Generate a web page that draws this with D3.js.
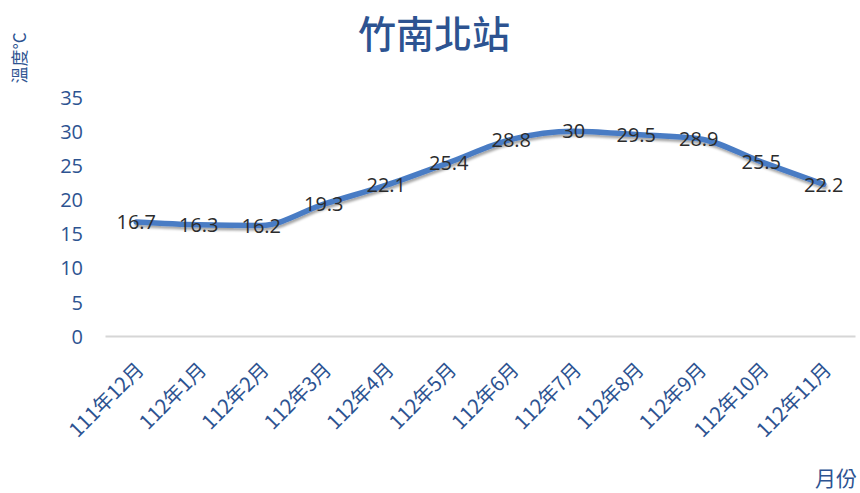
<!DOCTYPE html>
<html>
<head>
<meta charset="utf-8">
<script src="https://cdn.jsdelivr.net/npm/d3@7/dist/d3.min.js"></script>
<style>
  html, body { margin: 0; padding: 0; background: #fff; }
  svg { display: block; font-family: "Open Sans", "Noto Sans CJK TC", sans-serif; }
</style>
</head>
<body>
<svg id="chart" width="860" height="493"></svg>
<script>
// Monthly mean temperature, Zhunan North station
const months = ["111年12月", "112年1月", "112年2月", "112年3月", "112年4月", "112年5月",
                "112年6月", "112年7月", "112年8月", "112年9月", "112年10月", "112年11月"];
const temps = [16.7, 16.3, 16.2, 19.3, 22.1, 25.4, 28.8, 30, 29.5, 28.9, 25.5, 22.2];
const yTicks = [0, 5, 10, 15, 20, 25, 30, 35];

const svg = d3.select("#chart");
const blue = "#2d5391";
const cjk = "'Noto Sans CJK TC', sans-serif";

const x = d3.scaleBand().domain(months).range([105, 855]);
const y = d3.scaleLinear().domain([0, 35]).range([336, 97]);

// drop shadow for the line
const defs = svg.append("defs");
const f = defs.append("filter").attr("id", "shadow").attr("x", "-5%").attr("y", "-20%")
  .attr("width", "110%").attr("height", "140%");
f.append("feDropShadow").attr("dx", 1).attr("dy", 2.5).attr("stdDeviation", 1.2)
  .attr("flood-color", "#000").attr("flood-opacity", 0.35);

// title
svg.append("text").attr("x", 434).attr("y", 48).attr("text-anchor", "middle")
  .attr("font-family", cjk).attr("font-size", 38).attr("font-weight", 500)
  .attr("fill", blue).text("竹南北站");

// y axis title
svg.append("text").attr("transform", "translate(26,58) rotate(-90)")
  .attr("text-anchor", "middle").attr("font-family", cjk).attr("font-size", 17)
  .attr("fill", blue).text("溫度°C");

// x axis title
svg.append("text").attr("x", 857).attr("y", 486).attr("text-anchor", "end")
  .attr("font-family", cjk).attr("font-size", 21).attr("fill", blue).text("月份");

// y axis
const yAxis = svg.append("g").attr("transform", "translate(83,0)")
  .call(d3.axisLeft(y).tickValues(yTicks).tickSize(0).tickPadding(0));
yAxis.select(".domain").remove();
yAxis.selectAll("text").attr("font-size", 20).attr("fill", blue)
  .attr("font-family", "'Open Sans', sans-serif").attr("dy", "0.36em");

// x axis
const xAxis = svg.append("g").attr("transform", `translate(0,${y(0)})`)
  .call(d3.axisBottom(x).tickSize(0).tickPadding(0));
xAxis.select(".domain").attr("stroke", "#d6d6d6").attr("stroke-width", 2);
xAxis.selectAll(".tick text")
  .attr("font-family", cjk).attr("font-size", 20).attr("fill", blue)
  .attr("text-anchor", "end").attr("dy", 0).attr("y", 0)
  .attr("transform", "translate(9,35) rotate(-45)");

// line
const line = d3.line()
  .x((d, i) => x(months[i]) + x.bandwidth() / 2)
  .y(d => y(d))
  .curve(d3.curveMonotoneX);

svg.append("path").datum(temps)
  .attr("d", line).attr("fill", "none")
  .attr("stroke", "#4a7cc4").attr("stroke-width", 5.5)
  .attr("stroke-linecap", "round").attr("stroke-linejoin", "round")
  .attr("filter", "url(#shadow)");

// data labels
svg.append("g").selectAll("text").data(temps).join("text")
  .attr("x", (d, i) => x(months[i]) + x.bandwidth() / 2)
  .attr("y", d => y(d))
  .attr("dy", "0.36em")
  .attr("text-anchor", "middle")
  .attr("font-family", "'Open Sans', sans-serif").attr("font-size", 20)
  .attr("fill", "#2b2b2b")
  .text(d => d);
</script>
</body>
</html>
